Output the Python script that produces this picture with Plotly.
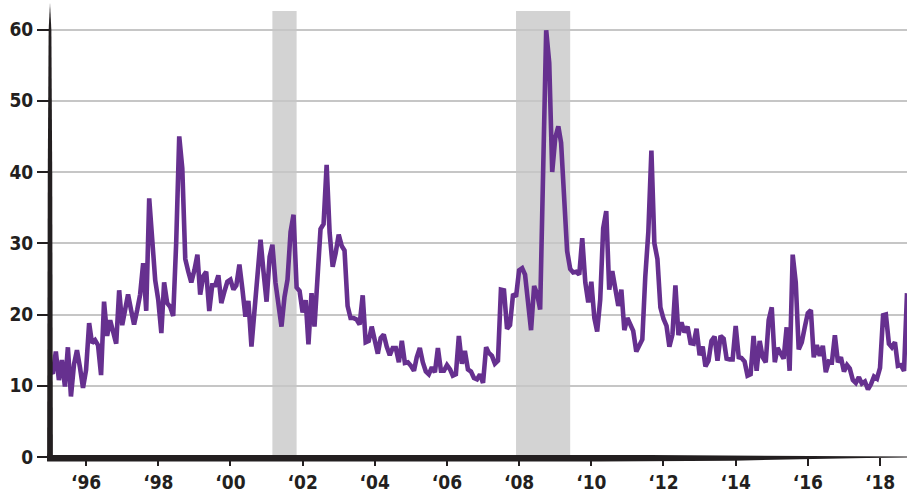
import pandas as pd
import plotly.graph_objects as go

# month-end values, Jan 1995 .. Oct 2018
y1995 = [11.8, 11.9, 14.8, 10.8, 13.6, 9.9, 15.4, 8.5, 13.0, 15.0, 12.5, 9.7]
y1996 = [12.2, 18.8, 16.0, 16.4, 15.7, 11.5, 21.8, 17.0, 19.2, 17.5, 15.9, 23.4]
y1997 = [18.5, 20.8, 22.8, 20.6, 18.6, 20.6, 22.8, 27.2, 20.5, 36.3, 29.7, 24.8]
y1998 = [22.0, 17.4, 24.5, 21.6, 21.1, 19.8, 30.0, 45.0, 40.5, 27.8, 26.0, 24.5]
y1999 = [26.2, 28.4, 22.8, 25.4, 26.0, 20.5, 24.1, 24.1, 25.5, 21.6, 23.2, 24.6]
y2000 = [24.9, 23.5, 24.1, 27.0, 23.6, 19.7, 21.9, 15.5, 20.6, 25.0, 30.5, 26.0]
y2001 = [21.8, 28.1, 29.8, 24.5, 21.7, 18.3, 22.4, 24.9, 31.6, 34.0, 23.8, 23.3]
y2002 = [20.3, 22.0, 15.8, 23.0, 18.3, 25.4, 32.0, 32.7, 41.0, 31.5, 26.7, 28.6]
y2003 = [31.2, 29.6, 29.0, 21.2, 19.5, 19.5, 19.3, 18.6, 22.7, 16.1, 16.3, 18.3]
y2004 = [16.6, 14.5, 16.7, 17.2, 15.5, 14.3, 15.3, 15.3, 13.3, 16.3, 13.2, 13.3]
y2005 = [12.8, 12.1, 14.0, 15.3, 13.3, 12.0, 11.6, 12.6, 11.9, 15.3, 12.1, 12.1]
y2006 = [12.9, 12.3, 11.4, 11.6, 17.0, 13.1, 14.9, 12.3, 12.0, 11.1, 10.9, 11.6]
y2007 = [10.4, 15.4, 14.6, 14.2, 13.1, 13.5, 23.5, 23.4, 18.0, 18.5, 22.9, 22.5]
y2008 = [26.2, 26.5, 25.6, 20.8, 17.8, 24.0, 22.9, 20.7, 39.4, 59.9, 55.3, 40.0]
y2009 = [44.8, 46.4, 44.1, 36.5, 28.9, 26.4, 25.9, 26.0, 25.6, 30.7, 24.5, 21.7]
y2010 = [24.6, 19.5, 17.6, 22.1, 32.1, 34.5, 23.5, 26.1, 23.7, 21.2, 23.5, 17.8]
y2011 = [19.5, 18.4, 17.7, 14.8, 15.5, 16.5, 25.3, 31.6, 43.0, 30.0, 27.8, 21.0]
y2012 = [19.4, 18.4, 15.5, 17.2, 24.1, 17.1, 18.9, 17.5, 18.3, 16.0, 15.9, 18.0]
y2013 = [14.3, 15.5, 12.7, 13.5, 16.3, 16.9, 13.5, 17.0, 16.6, 13.8, 13.7, 13.7]
y2014 = [18.4, 14.0, 13.9, 13.4, 11.4, 11.6, 17.0, 12.1, 16.3, 14.0, 13.3, 19.2]
y2015 = [21.0, 13.3, 15.3, 14.6, 13.8, 18.2, 12.1, 28.4, 24.5, 15.1, 16.1, 18.2]
y2016 = [20.2, 20.6, 14.0, 15.7, 14.2, 15.6, 11.9, 13.4, 13.3, 17.1, 13.3, 14.0]
y2017 = [12.0, 12.9, 12.4, 10.8, 10.4, 11.2, 10.3, 10.6, 9.5, 10.2, 11.3, 11.0]
y2018 = [12.5, 19.9, 20.0, 15.9, 15.4, 16.1, 12.8, 12.9, 12.1, 23.0]

vix = (y1995 + y1996 + y1997 + y1998 + y1999 + y2000 + y2001 + y2002 + y2003
       + y2004 + y2005 + y2006 + y2007 + y2008 + y2009 + y2010 + y2011 + y2012
       + y2013 + y2014 + y2015 + y2016 + y2017 + y2018)
dates = pd.date_range("1995-01-01", periods=len(vix), freq="MS")

# recessions (shaded)
rec_start = ["2001-03-01", "2007-12-01"]
rec_end = ["2001-11-01", "2009-06-01"]

tick_years = list(range(1996, 2019, 2))
tick_vals = [f"{y}-01-01" for y in tick_years]
tick_text = [f"\u2018{str(y)[2:]}" for y in tick_years]
y_ticks = [0, 10, 20, 30, 40, 50, 60]

ink = "#231f20"
font = dict(family="DejaVu Sans Condensed, Liberation Sans Narrow, DejaVu Sans",
            size=19, color=ink, weight="bold")

fig = go.Figure()
fig.add_trace(go.Scatter(x=dates, y=vix, mode="lines",
                         line=dict(color="#66308f", width=4.6), hoverinfo="x+y"))

for s, e in zip(rec_start, rec_end):
    fig.add_shape(type="rect", xref="x", yref="paper", x0=s, x1=e, y0=0, y1=1,
                  fillcolor="#d3d3d3", line_width=0, layer="below")

# tapered axis lines
fig.add_shape(type="path", xref="paper", yref="paper", fillcolor=ink, line_width=0,
              path="M -0.0034,-0.009 L 0.0034,-0.009 L 0.0026,0.64 L 0.0016,0.957 "
                   "L 0,1.018 L -0.0016,0.957 L -0.0026,0.64 Z")
fig.add_shape(type="path", xref="paper", yref="paper", fillcolor=ink, line_width=0,
              path="M -0.0034,0.0047 L 0.70,0.0045 L 1.0,0.0011 L 1.0,-0.0011 "
                   "L 0.953,-0.0022 L 0.875,-0.0052 L 0.797,-0.0083 L 0.642,-0.0101 "
                   "L -0.0034,-0.0103 Z")

fig.update_layout(
    width=907, height=494,
    margin=dict(l=50, r=0, t=11, b=37),
    paper_bgcolor="white", plot_bgcolor="white",
    showlegend=False,
    font=font,
)
fig.update_xaxes(range=["1995-01-01", "2018-10-01"], tickvals=tick_vals, ticktext=tick_text,
                 ticks="outside", ticklen=8, tickwidth=2, tickcolor=ink, automargin=False,
                 showgrid=False, showline=False, zeroline=False, tickfont=font)
fig.update_yaxes(range=[0, 62.6], tickvals=y_ticks, ticks="outside", ticklen=12,
                 tickwidth=2, tickcolor=ink, showgrid=True, gridcolor="#c6c6c6",
                 gridwidth=1.6, showline=False, zeroline=False, tickfont=font,
                 automargin=False)

# drop the browser's default page margin so the 907x494 figure fills the window
fig.write_html("out.html", config={"displayModeBar": False},
               post_script="document.body.style.margin='0';document.body.style.overflow='hidden';")
